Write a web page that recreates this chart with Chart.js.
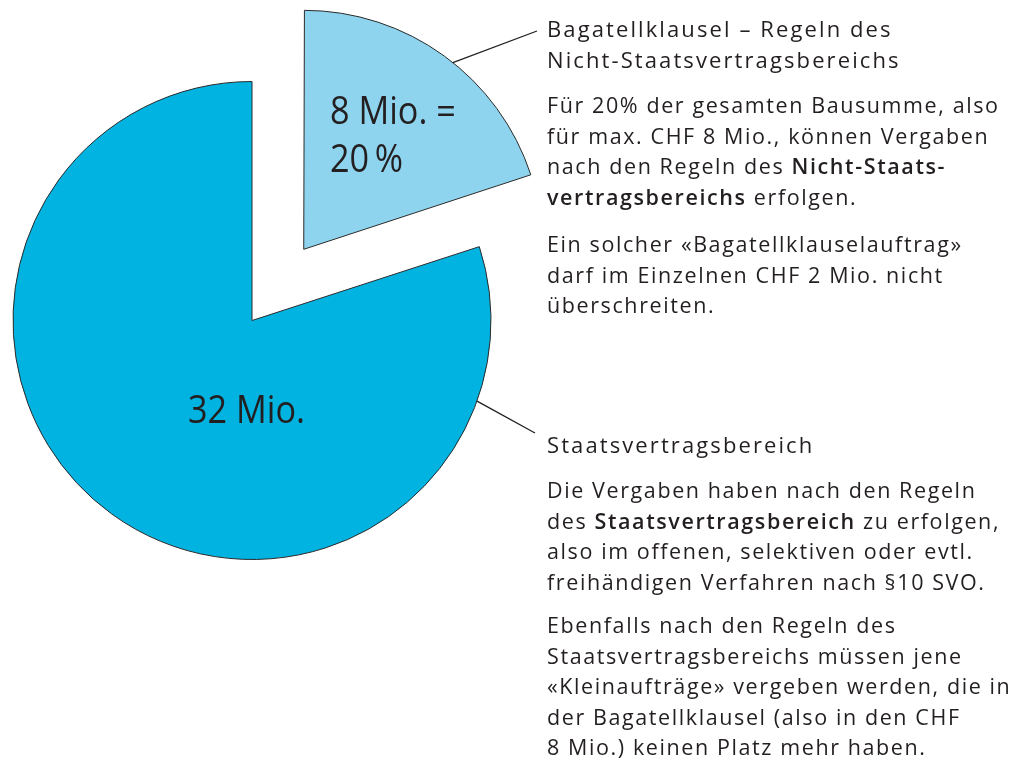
<!DOCTYPE html>
<html>
<head>
<meta charset="utf-8">
<script src="https://cdn.jsdelivr.net/npm/chart.js@4"></script>
<style>
  body { margin: 0; background: #fff; }
  #wrap { position: relative; width: 1011px; height: 762px; overflow: hidden; }
  #pie { position: absolute; left: 0; top: 0; }
  .txt { position: absolute; color: #231f20; font-family: "Open Sans", sans-serif; font-size: 21.5px; line-height: 30.5px; letter-spacing: 1.6px; white-space: nowrap; }
  .txt b { font-weight: 600; }
  .head { font-size: 22px; line-height: 31px; letter-spacing: 2.1px; }
  .big { position: absolute; color: #231f20; font-family: "Open Sans", sans-serif; font-weight: 400; font-size: 38px; line-height: 48px; white-space: nowrap; transform: scaleX(0.9); transform-origin: left top; }
</style>
</head>
<body>
<div id="wrap">
  <canvas id="pie" width="1011" height="762"></canvas>

  <div class="big" style="left:330px; top:85px;">8 Mio. =<br>20&#8201;%</div>
  <div class="big" style="left:187.5px; top:384px;">32 Mio.</div>

  <div class="txt head" style="left:547px; top:13px;">Bagatellklausel – Regeln des<br>Nicht-Staatsvertragsbereichs</div>
  <div class="txt" style="left:547px; top:90px;">Für 20% der gesamten Bausumme, also<br>für max. CHF 8 Mio., können Vergaben<br>nach den Regeln des <b>Nicht-Staats-</b><br><b>vertragsbereichs</b> erfolgen.</div>
  <div class="txt" style="left:547px; top:229px;">Ein solcher «Bagatellklauselauftrag»<br>darf im Einzelnen CHF 2 Mio. nicht<br>überschreiten.</div>

  <div class="txt head" style="left:547px; top:429px;">Staatsvertragsbereich</div>
  <div class="txt" style="left:547px; top:475px;">Die Vergaben haben nach den Regeln<br>des <b>Staatsvertragsbereich</b> zu erfolgen,<br>also im offenen, selektiven oder evtl.<br>freihändigen Verfahren nach §10 SVO.</div>
  <div class="txt" style="left:547px; top:610px;">Ebenfalls nach den Regeln des<br>Staatsvertragsbereichs müssen jene<br>«Kleinaufträge» vergeben werden, die in<br>der Bagatellklausel (also in den CHF<br>8 Mio.) keinen Platz mehr haben.</div>
</div>

<script>
// Bausumme in Mio. CHF
const labels = ['Bagatellklausel (Nicht-Staatsvertragsbereich)', 'Staatsvertragsbereich'];
const values = [8, 32];
const colors = ['#8fd4ee', '#00b3e1'];
const offsets = [352, 0]; // Chart.js verschiebt um offset/4

// Hinweislinien: Winkel auf dem Bogen (Grad ab oben, im Uhrzeigersinn) -> Endpunkt beim Text
const leaders = [
    { slice: 0, angle: 38.6, to: [537, 31] },
    { slice: 1, angle: 109.7, to: [535, 433] }
];

const pieRadius = 239;

// Chart.js vergroessert den Radius eines verschobenen Stuecks, hier wieder ausgleichen
const fixOffsetRadius = {
    id: 'fixOffsetRadius',
    beforeDatasetsDraw(chart) {
        const meta = chart.getDatasetMeta(0);
        meta.data.forEach((arc, i) => {
            const o = (offsets[i] || 0) / 4;
            const c = arc.endAngle - arc.startAngle;
            const fix = 1 - Math.sin(Math.min(Math.PI, c));
            arc.outerRadius = meta.controller.outerRadius - o * fix;
        });
    }
};

const leaderLines = {
    id: 'leaderLines',
    afterDatasetsDraw(chart) {
        const ctx = chart.ctx;
        const meta = chart.getDatasetMeta(0);
        const R = meta.controller.outerRadius;
        ctx.save();
        ctx.strokeStyle = '#231f20';
        ctx.lineWidth = 1.3;
        leaders.forEach((l) => {
            const arc = meta.data[l.slice];
            const half = (arc.startAngle + arc.endAngle) / 2;
            const shift = (offsets[l.slice] || 0) / 4;
            const cx = arc.x + Math.cos(half) * shift;
            const cy = arc.y + Math.sin(half) * shift;
            const a = (l.angle - 90) * Math.PI / 180;
            ctx.beginPath();
            ctx.moveTo(cx + Math.cos(a) * R, cy + Math.sin(a) * R);
            ctx.lineTo(l.to[0], l.to[1]);
            ctx.stroke();
        });
        ctx.restore();
    }
};

new Chart(document.getElementById('pie'), {
    type: 'pie',
    data: {
        labels: labels,
        datasets: [{
            data: values,
            backgroundColor: colors,
            borderColor: '#2a2a2a',
            borderWidth: 1,
            offset: offsets,
            clip: false
        }]
    },
    options: {
        responsive: false,
        animation: false,
        events: [],
        radius: pieRadius,
        layout: { padding: { left: 0, top: 0, right: 1011 - 504, bottom: 762 - 641 } },
        plugins: {
            legend: { display: false },
            tooltip: { enabled: false }
        }
    },
    plugins: [fixOffsetRadius, leaderLines]
});
</script>
</body>
</html>
